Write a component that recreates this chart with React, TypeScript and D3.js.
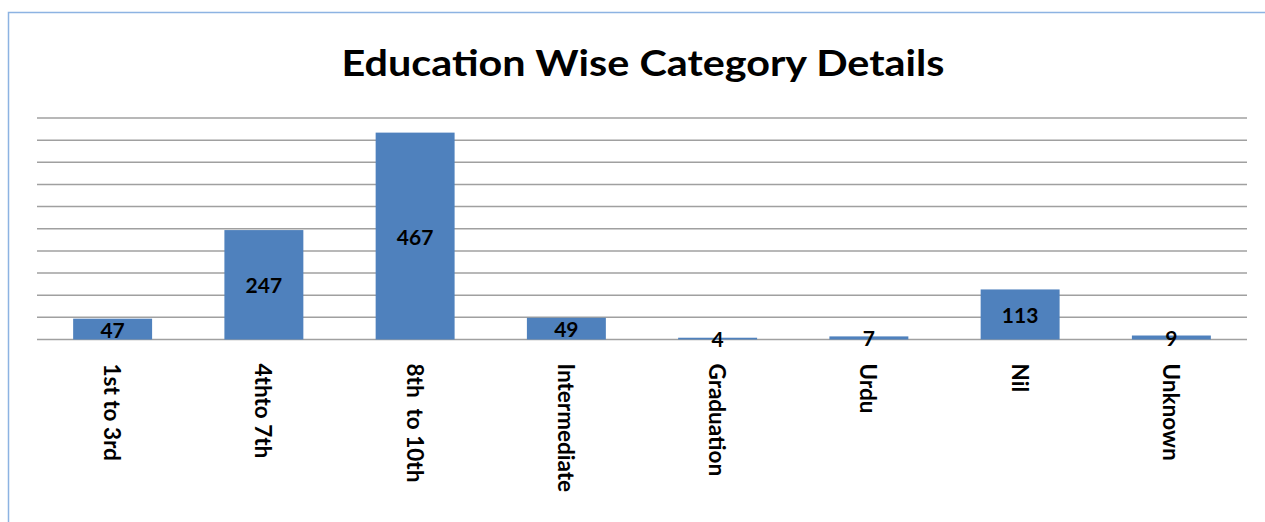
import * as d3 from "d3";

const width = 1265;
const height = 522;
const margin = { top: 118, right: 18, bottom: 182.5, left: 37 };

const categories = ["1st to 3rd", "4thto 7th", "8th  to 10th", "Intermediate", "Graduation", "Urdu", "Nil", "Unknown"];
const values = [47, 247, 467, 49, 4, 7, 113, 9];
const gridTicks = [0, 50, 100, 150, 200, 250, 300, 350, 400, 450, 500];

const title = "Education Wise Category Details";
const font = "Lato, 'Open Sans', sans-serif";

const App = () => {
  const x = d3
    .scaleBand<string>()
    .domain(categories)
    .range([margin.left, width - margin.right])
    .paddingInner(0.478)
    .paddingOuter(0.239);

  const y = d3
    .scaleLinear()
    .domain([0, 500])
    .range([height - margin.bottom, margin.top]);

  return (
    <svg
      width={width}
      height={height}
      viewBox={`0 0 ${width} ${height}`}
      style={{ position: "absolute", left: 0, top: 0, display: "block", background: "#fff" }}
    >
      {/* chart frame */}
      <rect x={8.5} y={12.5} width={width} height={height} fill="none" stroke="#8db3e2" strokeWidth={1.5} />

      <text
        x={643}
        y={76}
        textAnchor="middle"
        fontFamily={font}
        fontWeight="bold"
        fontSize={37}
        textLength={603}
        lengthAdjust="spacingAndGlyphs"
        fill="#000"
      >
        {title}
      </text>

      {/* gridlines */}
      {gridTicks.map(t => (
        <line
          key={t}
          x1={margin.left}
          x2={width - margin.right}
          y1={y(t)}
          y2={y(t)}
          stroke="#a0a0a0"
          strokeWidth={1.5}
        />
      ))}

      {/* bars */}
      {categories.map((c, i) => (
        <rect
          key={c}
          x={x(c)}
          y={y(values[i])}
          width={x.bandwidth()}
          height={y(0) - y(values[i])}
          fill="#4f81bd"
        />
      ))}

      {/* value labels */}
      {categories.map((c, i) => (
        <text
          key={c}
          x={(x(c) as number) + x.bandwidth() / 2}
          y={(y(values[i]) + y(0)) / 2}
          textAnchor="middle"
          dominantBaseline="central"
          fontFamily={font}
          fontWeight="bold"
          fontSize={21}
          fill="#000"
        >
          {values[i]}
        </text>
      ))}

      {/* category labels, rotated */}
      {categories.map(c => {
        const cx = (x(c) as number) + x.bandwidth() / 2;
        const cy = y(0) + 24;
        return (
          <text
            key={c}
            transform={`translate(${cx},${cy}) rotate(90)`}
            textAnchor="start"
            dominantBaseline="central"
            fontFamily={font}
            fontWeight="bold"
            fontSize={22.5}
            fill="#000"
            style={{ whiteSpace: "pre" }}
          >
            {c}
          </text>
        );
      })}
    </svg>
  );
};

export default App;
